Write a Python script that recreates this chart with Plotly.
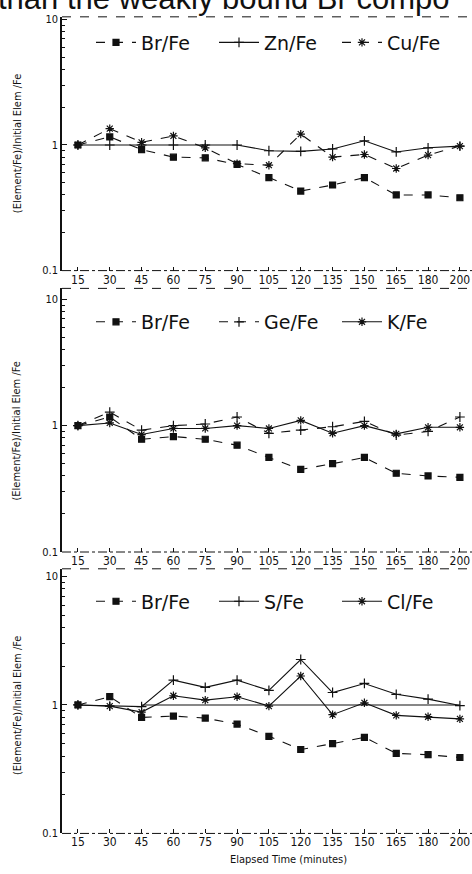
import plotly.graph_objects as go

W, H = 472, 874

times = ["15", "30", "45", "60", "75", "90", "105", "120", "135", "150", "165", "180", "200"]

# Panel 1
br_1 = [1.0, 1.16, 0.92, 0.80, 0.79, 0.70, 0.55, 0.43, 0.48, 0.55, 0.40, 0.40, 0.38]
zn_1 = [1.0, 1.0, 1.0, 1.0, 1.0, 1.0, 0.90, 0.89, 0.93, 1.08, 0.88, 0.95, 0.98]
cu_1 = [1.0, 1.35, 1.05, 1.18, 0.95, 0.71, 0.69, 1.22, 0.80, 0.84, 0.65, 0.83, 0.98]

# Panel 2
br_2 = [1.0, 1.17, 0.78, 0.82, 0.78, 0.70, 0.56, 0.45, 0.50, 0.56, 0.42, 0.40, 0.39]
ge_2 = [1.0, 1.28, 0.92, 1.0, 1.03, 1.17, 0.87, 0.92, 0.98, 1.08, 0.84, 0.90, 1.17]
k_2 = [1.0, 1.05, 0.85, 0.95, 0.95, 1.0, 0.95, 1.10, 0.87, 1.0, 0.86, 0.97, 0.97]

# Panel 3
br_3 = [1.0, 1.16, 0.80, 0.82, 0.79, 0.71, 0.57, 0.45, 0.50, 0.56, 0.42, 0.41, 0.39]
s_3 = [1.0, 0.98, 0.97, 1.56, 1.37, 1.56, 1.30, 2.26, 1.25, 1.47, 1.21, 1.11, 0.99]
cl_3 = [1.0, 0.98, 0.88, 1.18, 1.09, 1.16, 0.98, 1.68, 0.84, 1.04, 0.83, 0.81, 0.78]

y_major = [0.1, 1, 10]
y_major_text = ["0.1", "1", "10"]
y_minor = [0.2, 0.3, 0.4, 0.5, 0.6, 0.7, 0.8, 0.9, 2, 3, 4, 5, 6, 7, 8, 9]

y_title = "(Element/Fe)/Initial Elem /Fe"
x_title = "Elapsed Time (minutes)"
top_text = "than the weakly bound Br compo"

# panel geometry in pixels: (top, bottom, log10 at top)
panels = [(13, 270, 1.02), (288, 555, 1.086), (572, 840, 1.06)]
legend_y_px = [39, 322, 605]
ytitle_px = [142, 433, 711]

INK = "#111111"

def py(px):
    return 1 - px / H

fig = go.Figure()

series = [
    [("Br/Fe", br_1, "square", "dash"), ("Zn/Fe", zn_1, "cross-thin-open", "solid"), ("Cu/Fe", cu_1, "asterisk-open", "dash")],
    [("Br/Fe", br_2, "square", "dash"), ("Ge/Fe", ge_2, "cross-thin-open", "dash"), ("K/Fe", k_2, "asterisk-open", "solid")],
    [("Br/Fe", br_3, "square", "dash"), ("S/Fe", s_3, "cross-thin-open", "solid"), ("Cl/Fe", cl_3, "asterisk-open", "solid")],
]

for i, group in enumerate(series):
    ax = "" if i == 0 else str(i + 1)
    leg = "legend" if i == 0 else "legend" + str(i + 1)
    for name, vals, sym, dash in group:
        msize = 6 if sym == "square" else 7
        fig.add_trace(go.Scatter(
            x=times, y=vals, name=name, mode="lines+markers",
            xaxis="x" + ax, yaxis="y" + ax, legend=leg,
            line=dict(color=INK, width=1.1, dash=dash),
            marker=dict(symbol=sym, size=msize, color=INK, line=dict(color=INK, width=1.2)),
        ))

layout = dict(
    width=W, height=H,
    margin=dict(l=0, r=0, t=0, b=0),
    paper_bgcolor="white", plot_bgcolor="white",
    showlegend=True,
    font=dict(family="Liberation Sans Narrow, DejaVu Sans Condensed, Arial, sans-serif", color=INK, size=12),
)

shapes = []
annotations = []
for i, (top, bot, ltop) in enumerate(panels):
    ax = "" if i == 0 else str(i + 1)
    xk = "xaxis" + ax
    yk = "yaxis" + ax
    layout[xk] = dict(
        domain=[62 / W, 1], anchor="y" + ax, type="category",
        categoryorder="array", categoryarray=times,
        range=[-0.5, 12.38], showgrid=False, zeroline=False, showline=False,
        ticks="inside", ticklen=4, tickcolor=INK, tickwidth=1,
        tickfont=dict(size=12),
    )
    layout[yk] = dict(
        domain=[py(bot), py(top)], anchor="x" + ax, type="log",
        range=[-1, ltop], showgrid=False, zeroline=False,
        showline=True, linecolor=INK, linewidth=1.5,
        tickmode="array", tickvals=y_major, ticktext=y_major_text,
        ticks="inside", ticklen=5, tickcolor=INK,
        minor=dict(tickmode="array", tickvals=y_minor, ticks="inside", ticklen=3, tickcolor=INK),
        tickfont=dict(size=11),
    )
    leg = "legend" if i == 0 else "legend" + str(i + 1)
    layout[leg] = dict(
        orientation="h", x=91 / W, xanchor="left", y=py(legend_y_px[i]), yanchor="middle",
        font=dict(family="DejaVu Sans, sans-serif", size=19, color=INK),
        bgcolor="rgba(0,0,0,0)", itemwidth=40, tracegroupgap=0,
        entrywidth=68, entrywidthmode="pixels",
    )
    # dashed top border and dash-dot bottom border (as in the scan)
    shapes.append(dict(type="line", xref="x" + ax + " domain", yref="y" + ax + " domain",
                       x0=0, x1=1, y0=1, y1=1, line=dict(color=INK, width=1, dash="dash")))
    shapes.append(dict(type="line", xref="x" + ax + " domain", yref="y" + ax + " domain",
                       x0=0, x1=1, y0=0, y1=0, line=dict(color=INK, width=1, dash="dashdot")))
    annotations.append(dict(text=y_title, textangle=-90, x=17 / W, y=py(ytitle_px[i]),
                            xref="paper", yref="paper", showarrow=False,
                            font=dict(size=11), xanchor="center", yanchor="middle"))

# reference line at 1 in lower panel
shapes.append(dict(type="line", xref="x3", yref="y3", x0=2, x1=12, y0=1, y1=1,
                   line=dict(color=INK, width=1.1)))

annotations.append(dict(text=x_title, x=288 / W, y=py(866), xref="paper", yref="paper",
                        showarrow=False, font=dict(size=11), xanchor="center", yanchor="middle"))
annotations.append(dict(text=top_text, x=-4 / W, y=py(-6), xref="paper", yref="paper",
                        showarrow=False, xanchor="left", yanchor="middle",
                        font=dict(family="Liberation Sans, Arial, sans-serif", size=31, color=INK)))

layout["shapes"] = shapes
layout["annotations"] = annotations
fig.update_layout(**layout)

fig.write_html("out.html", config={"displayModeBar": False},
               post_script="document.body.style.margin='0px';")
